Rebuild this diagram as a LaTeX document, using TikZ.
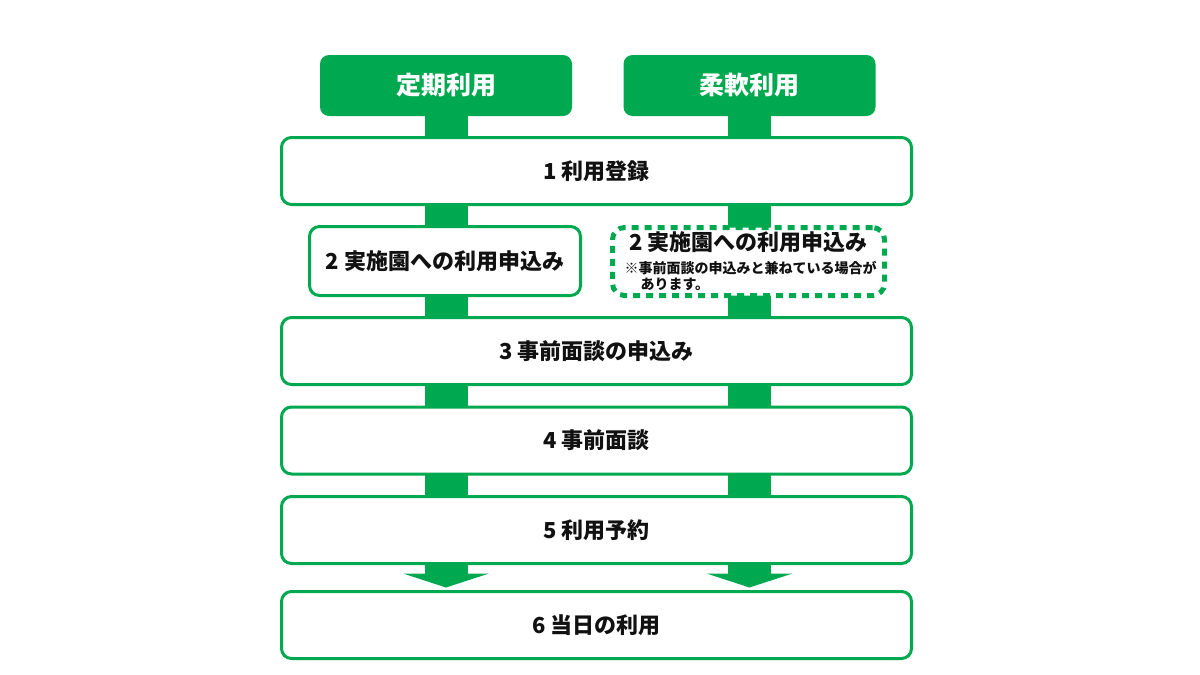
\documentclass[tikz,border=0pt]{standalone}
\usepackage{fontspec}
\setmainfont{Noto Sans CJK JP}
\usepackage{tikz}
\usetikzlibrary{arrows.meta,backgrounds}
\definecolor{main}{HTML}{00A94F}
\definecolor{ink}{HTML}{111111}
\tikzset{
  head/.style={fill=main, rounded corners=9pt, minimum width=252pt, minimum height=61pt, inner sep=0pt, text=white, font=\fontsize{25}{29}\selectfont\bfseries},
  stepbox/.style={draw=main, line width=3pt, fill=white, rounded corners=10pt, minimum width=630pt, minimum height=67pt, inner sep=0pt, text=ink, font=\fontsize{22}{26}\selectfont\bfseries},
  dotbox/.style={draw=main, line width=5pt, dash pattern=on 7pt off 6pt, fill=white, rounded corners=12pt, minimum width=272pt, minimum height=68pt, inner sep=0pt},
  bar/.style={draw=main, line width=43pt},
  lbl/.style={text=ink, font=\fontsize{22}{26}\selectfont\bfseries},
  note/.style={text=ink, align=left, font=\fontsize{14}{15.5}\selectfont\bfseries}
}
\begin{document}
\begin{tikzpicture}[x=1pt, y=-1pt]
  \useasboundingbox (0,0) rectangle (1200,675);

  % two kinds of use
  \node[head] (teiki) at (446,85.5) {定期利用};
  \node[head] (juunan) at (749.5,85.5) {柔軟利用};

  % steps
  \node[stepbox] (reg) at (596.5,171) {1 利用登録};
  \node[stepbox, minimum width=271pt, minimum height=69pt] (app) at (445,261) {2 実施園への利用申込み};
  \node[dotbox] (appf) at (748.5,261.5) {};
  \node[lbl] (appft) at (748.5,242) {2 実施園への利用申込み};
  \node[note, anchor=north west] (appfn) at (621,258) {※事前面談の申込みと兼ねている場合が\\\hspace*{16pt}あります。};
  \node[stepbox] (intapp) at (596.5,351) {3 事前面談の申込み};
  \node[stepbox] (intv) at (596.5,440.5) {4 事前面談};
  \node[stepbox] (resv) at (596.5,530) {5 利用予約};
  \node[stepbox] (day) at (596.5,625) {6 当日の利用};

  % green bars behind the boxes
  \begin{scope}[on background layer]
    \draw[bar, -{Triangle[width=86pt,length=14pt,line width=0pt]}, shorten >=2.5pt] (teiki.south) -- (teiki.south |- day.north);
    \draw[bar, -{Triangle[width=86pt,length=14pt,line width=0pt]}, shorten >=2.5pt] (juunan.south) -- (juunan.south |- day.north);
  \end{scope}
\end{tikzpicture}
\end{document}
